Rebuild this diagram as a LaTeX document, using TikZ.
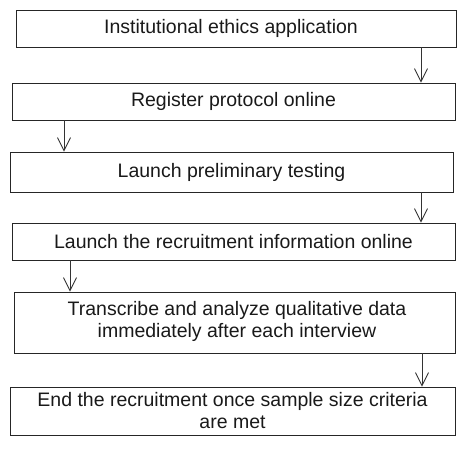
\documentclass[tikz,border=0pt]{standalone}
\usepackage{fontspec}
\setmainfont{Liberation Sans}
\usetikzlibrary{arrows.meta,positioning,calc}
\begin{document}
\begin{tikzpicture}[x=1pt,y=1pt,
  stepbox/.style={draw=black!85, line width=0.9pt, rectangle, inner sep=0pt,
     font=\fontsize{19.5}{22}\selectfont, text=black!90, align=center},
  steptext/.style={font=\fontsize{19.5}{22}\selectfont, text=black!90, align=center},
  arr/.style={draw=black!80, line width=0.9pt, -{Straight Barb[length=13pt,width=13pt,line width=0.9pt]}}
]
\useasboundingbox (0,0) rectangle (467,-455);
\node[stepbox, minimum width=440pt, minimum height=37pt] (b1) at (236,-28.5) {};
\node[steptext] (t1) at (231,-28.5) {Institutional ethics application};
\node[stepbox, minimum width=443pt, minimum height=37pt] (b2) at (233.5,-101.5) {Register protocol online};
\node[stepbox, minimum width=443pt, minimum height=40pt] (b3) at (231.5,-172) {Launch preliminary testing};
\node[stepbox, minimum width=443pt, minimum height=37pt] (b4) at (233.5,-241.5) {Launch the recruitment information online};
\node[stepbox, minimum width=441pt, minimum height=61pt] (b5) at (234.5,-322.5) {};
\node[steptext] (t5) at (237,-321) {Transcribe and analyze qualitative data\\immediately after each interview};
\node[stepbox, minimum width=445pt, minimum height=48pt] (b6) at (232.5,-411) {End the recruitment once sample size criteria\\are met};
\coordinate (x1) at (421,0);
\coordinate (x2) at (64,0);
\coordinate (x3) at (421,0);
\coordinate (x4) at (70,0);
\coordinate (x5) at (422,0);
\draw[arr] (b1.south -| x1) -- (b2.north -| x1);
\draw[arr] (b2.south -| x2) -- (b3.north -| x2);
\draw[arr] (b3.south -| x3) -- (b4.north -| x3);
\draw[arr] (b4.south -| x4) -- (b5.north -| x4);
\draw[arr] (b5.south -| x5) -- (b6.north -| x5);
\end{tikzpicture}
\end{document}
